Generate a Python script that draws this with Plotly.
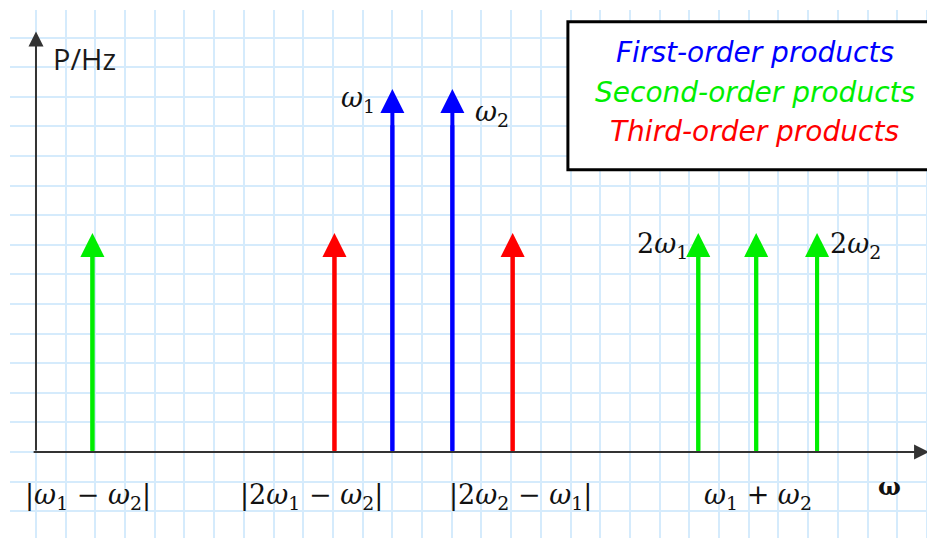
import plotly.graph_objects as go

# ---- data (grid units: 1 unit = one grid square) ----
orders = ["First-order products", "Second-order products", "Third-order products"]
order_colors = ["#0000ff", "#00ee00", "#ff0000"]

first_x = [12.0, 14.02]          # w1, w2
first_h = [12.26, 12.26]
second_x = [1.9, 22.3, 24.25, 26.3]   # |w1-w2|, 2w1, w1+w2, 2w2
second_h = [7.4, 7.4, 7.4, 7.4]
third_x = [10.05, 16.05]          # |2w1-w2|, |2w2-w1|
third_h = [7.4, 7.4]

arrow_labels = ["<i>ω</i><sub>1</sub>", "<i>ω</i><sub>2</sub>", "2<i>ω</i><sub>1</sub>", "2<i>ω</i><sub>2</sub>"]
arrow_label_x = [10.84, 15.35, 21.1, 27.6]
arrow_label_y = [11.9, 11.45, 6.99, 6.99]

axis_labels = ["|<i>ω</i><sub>1</sub> − <i>ω</i><sub>2</sub>|",
               "|2<i>ω</i><sub>1</sub> − <i>ω</i><sub>2</sub>|",
               "|2<i>ω</i><sub>2</sub> − <i>ω</i><sub>1</sub>|",
               "<i>ω</i><sub>1</sub> + <i>ω</i><sub>2</sub>"]
axis_label_x = [1.75, 9.26, 16.33, 24.3]
axis_label_y = -1.5

x_axis_end = 30.07
y_axis_end = 14.2
x_range = [-0.875, 30.54]
y_range = [-3.176, 14.93]

fig = go.Figure()

series = [(first_x, first_h, order_colors[0]),
          (second_x, second_h, order_colors[1]),
          (third_x, third_h, order_colors[2])]

annotations = []
for xs, hs, col in series:
    lx, ly = [], []
    for x, h in zip(xs, hs):
        lx += [x, x, None]
        ly += [0, h * 0.9, None]
        annotations.append(dict(x=x, y=h, ax=x, ay=0, xref="x", yref="y", axref="x", ayref="y",
                                text="", showarrow=True, arrowhead=2, arrowsize=1.2,
                                arrowwidth=4, arrowcolor=col))
    fig.add_trace(go.Scatter(x=lx, y=ly, mode="lines", line=dict(color=col, width=4),
                             showlegend=False, hoverinfo="skip"))

# axes with arrows
annotations.append(dict(x=x_axis_end, y=0, ax=-0.13, ay=0, xref="x", yref="y", axref="x", ayref="y",
                        text="", showarrow=True, arrowhead=2, arrowsize=1.5, arrowwidth=2,
                        arrowcolor="#333333"))
annotations.append(dict(x=0, y=y_axis_end, ax=0, ay=0, xref="x", yref="y", axref="x", ayref="y",
                        text="", showarrow=True, arrowhead=2, arrowsize=1.5, arrowwidth=2,
                        arrowcolor="#333333"))

math_font = dict(family="DejaVu Serif", size=27, color="#111111")
for t, x, y in zip(arrow_labels, arrow_label_x, arrow_label_y):
    annotations.append(dict(x=x, y=y, text=t, showarrow=False, font=math_font, xref="x", yref="y"))
for t, x in zip(axis_labels, axis_label_x):
    annotations.append(dict(x=x, y=axis_label_y, text=t, showarrow=False, font=math_font, xref="x", yref="y"))
annotations.append(dict(x=28.75, y=-1.18, text="<b>ω</b>", showarrow=False,
                        font=dict(family="DejaVu Serif", size=24, color="#111111"), xref="x", yref="y"))
annotations.append(dict(x=1.62, y=13.3, text="P/Hz", showarrow=False,
                        font=dict(family="Open Sans", size=29, color="#1a1a1a"), xref="x", yref="y"))

legend_y = [13.51, 12.13, 10.84]
for name, col, y in zip(orders, order_colors, legend_y):
    annotations.append(dict(x=24.2, y=y, text="<i>" + name + "</i>", showarrow=False,
                            font=dict(family="DejaVu Sans", size=28, color=col), xref="x", yref="y"))

fig.add_shape(type="rect", x0=17.91, x1=31, y0=9.53, y1=14.53, xref="x", yref="y",
              line=dict(color="black", width=3), fillcolor="white", layer="above")

grid_color = "#d5ebfc"
fig.update_layout(
    width=935, height=538,
    margin=dict(l=2, r=0, t=2, b=0),
    paper_bgcolor="white", plot_bgcolor="white",
    annotations=annotations,
    xaxis=dict(range=x_range, tick0=0, dtick=1, showgrid=True, gridcolor=grid_color, gridwidth=2,
               zeroline=False, showticklabels=False, ticks="", showline=False, fixedrange=True),
    yaxis=dict(range=y_range, tick0=0, dtick=1, showgrid=True, gridcolor=grid_color, gridwidth=2,
               zeroline=False, showticklabels=False, ticks="", showline=False, fixedrange=True),
    showlegend=False,
)

fig.write_html("out.html")
